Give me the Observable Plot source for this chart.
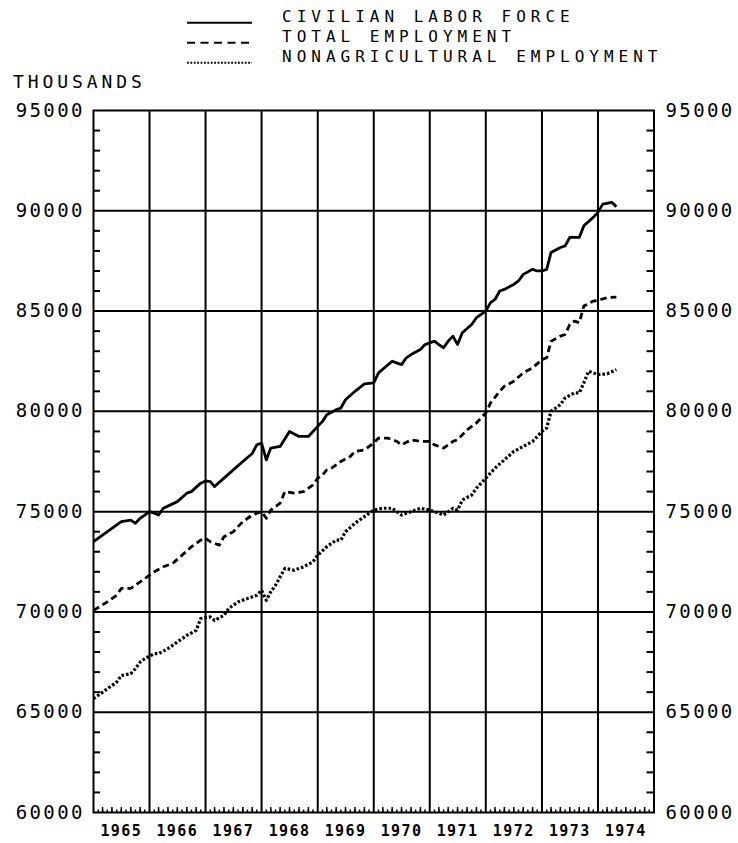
<!DOCTYPE html>
<html>
<head>
<meta charset="utf-8">
<script src="https://cdn.jsdelivr.net/npm/d3@7"></script>
<script src="https://cdn.jsdelivr.net/npm/@observablehq/plot@0.6"></script>
<style>
  body { margin: 0; background: #fff; }
  #wrap { width: 738px; height: 843px; position: relative; overflow: hidden; background: #fff; }
  #legend { display: block; }
  #chart svg { display: block; }
</style>
</head>
<body>
<div id="wrap">
  <svg id="legend" width="738" height="96"></svg>
  <div id="chart"></div>
</div>
<script>
// ---------------- DATA (thousands) ----------------
const seriesNames = ["CIVILIAN LABOR FORCE", "TOTAL EMPLOYMENT", "NONAGRICULTURAL EMPLOYMENT"];
const unitLabel = "THOUSANDS";
const yearLabels = ["1965", "1966", "1967", "1968", "1969", "1970", "1971", "1972", "1973", "1974"];
const yTickValues = [60000, 65000, 70000, 75000, 80000, 85000, 90000, 95000];

const laborForce = [
  ["1965-01",73500],["1965-03",73830],["1965-05",74170],["1965-07",74500],["1965-09",74580],["1965-10",74420],
  ["1965-11",74670],["1965-12",74830],["1966-01",75000],["1966-02",74920],["1966-03",74830],["1966-04",75170],
  ["1966-07",75500],["1966-09",75920],["1966-10",76000],["1966-12",76420],["1967-01",76530],["1967-02",76500],
  ["1967-03",76250],["1967-05",76670],["1967-07",77080],["1967-09",77500],["1967-11",77900],["1967-12",78330],
  ["1968-01",78420],["1968-02",77580],["1968-03",78170],["1968-05",78250],["1968-07",79000],["1968-09",78750],
  ["1968-11",78750],["1969-01",79250],["1969-02",79500],["1969-03",79830],["1969-05",80080],["1969-06",80170],
  ["1969-07",80580],["1969-09",81000],["1969-11",81370],["1970-01",81420],["1970-02",81920],["1970-05",82500],
  ["1970-07",82330],["1970-08",82670],["1970-09",82830],["1970-11",83080],["1970-12",83330],["1971-02",83500],
  ["1971-03",83330],["1971-04",83170],["1971-05",83500],["1971-06",83750],["1971-07",83330],["1971-08",83920],
  ["1971-10",84330],["1971-11",84670],["1972-01",85000],["1972-02",85420],["1972-03",85580],["1972-04",86000],
  ["1972-05",86080],["1972-07",86330],["1972-08",86500],["1972-09",86830],["1972-11",87080],["1972-12",87000],
  ["1973-01",87000],["1973-02",87080],["1973-03",87920],["1973-05",88170],["1973-06",88250],["1973-07",88670],
  ["1973-09",88670],["1973-10",89250],["1973-12",89670],["1974-01",89920],["1974-02",90330],["1974-04",90420],
  ["1974-05",90200]
];

const totalEmployment = [
  ["1965-01",70080],["1965-04",70500],["1965-06",70830],["1965-07",71170],["1965-09",71170],["1965-11",71500],
  ["1966-01",71830],["1966-02",72000],["1966-04",72250],["1966-06",72420],["1966-08",72830],["1966-10",73250],
  ["1966-12",73580],["1967-01",73670],["1967-02",73500],["1967-04",73330],["1967-05",73750],["1967-07",74000],
  ["1967-09",74500],["1967-11",74830],["1968-01",75000],["1968-02",74670],["1968-03",75080],["1968-05",75420],
  ["1968-06",76000],["1968-08",75920],["1968-10",76000],["1968-12",76330],["1969-01",76670],["1969-02",76830],
  ["1969-03",77080],["1969-04",77170],["1969-05",77330],["1969-06",77500],["1969-08",77750],["1969-09",78000],
  ["1969-11",78080],["1970-01",78420],["1970-02",78670],["1970-04",78670],["1970-06",78500],["1970-07",78330],
  ["1970-09",78580],["1970-11",78500],["1971-01",78500],["1971-02",78330],["1971-04",78170],["1971-06",78500],
  ["1971-07",78580],["1971-09",79080],["1971-11",79420],["1972-01",79920],["1972-02",80420],["1972-04",81000],
  ["1972-05",81250],["1972-07",81500],["1972-09",81920],["1972-11",82170],["1973-01",82580],["1973-02",82670],
  ["1973-03",83500],["1973-05",83750],["1973-06",83830],["1973-07",84330],["1973-08",84500],["1973-09",84420],
  ["1973-10",85250],["1973-12",85500],["1974-01",85530],["1974-03",85670],["1974-05",85700]
];

const nonagEmployment = [
  ["1965-01",65670],["1965-04",66170],["1965-06",66500],["1965-07",66830],["1965-09",66920],["1965-10",67170],
  ["1965-11",67500],["1965-12",67670],["1966-02",67920],["1966-03",67920],["1966-05",68170],["1966-07",68500],
  ["1966-09",68830],["1966-11",69080],["1966-12",69670],["1967-02",69750],["1967-03",69580],["1967-05",69830],
  ["1967-06",70170],["1967-08",70500],["1967-10",70670],["1967-12",70830],["1968-01",71080],["1968-02",70580],
  ["1968-03",71000],["1968-04",71330],["1968-05",71750],["1968-06",72170],["1968-08",72080],["1968-10",72250],
  ["1968-12",72500],["1969-01",72830],["1969-03",73250],["1969-05",73580],["1969-06",73580],["1969-07",74000],
  ["1969-09",74420],["1969-11",74750],["1970-01",75080],["1970-03",75170],["1970-05",75170],["1970-07",74830],
  ["1970-09",75000],["1970-11",75170],["1971-01",75080],["1971-02",75000],["1971-04",74830],["1971-06",75170],
  ["1971-07",75080],["1971-08",75580],["1971-10",75830],["1971-11",76170],["1972-01",76670],["1972-03",77170],
  ["1972-05",77580],["1972-07",78000],["1972-09",78250],["1972-11",78500],["1973-01",79000],["1973-02",79170],
  ["1973-03",80000],["1973-05",80330],["1973-06",80670],["1973-08",80920],["1973-09",80920],["1973-10",81420],
  ["1973-11",82000],["1973-12",81920],["1974-01",81830],["1974-03",81870],["1974-05",82080]
];

// ---------------- STYLES / LAYOUT ----------------
const seriesData = [laborForce, totalEmployment, nonagEmployment];
const dashes = [null, "6.5,4", "2.6,2"];
const widths = [2.8, 2.8, 3.2];
const FONT = "'DejaVu Sans Mono', monospace";

// Legend block (HTML-side SVG above the chart)
const leg = d3.select("#legend");
seriesNames.forEach((name, i) => {
  const base = 21.7 + i * 20;
  const ln = leg.append("line")
    .attr("x1", 187).attr("x2", 252)
    .attr("y1", base + 1).attr("y2", base + 1)
    .attr("stroke", "#000").attr("stroke-width", 2);
  if (i === 1) ln.attr("stroke-dasharray", "8,5.5");
  if (i === 2) ln.attr("stroke-dasharray", "1.8,1.6");
  leg.append("text")
    .attr("x", 282).attr("y", base)
    .attr("font-family", FONT).attr("font-size", 16)
    .attr("letter-spacing", "5px")
    .text(name);
});
leg.append("text")
  .attr("x", 13).attr("y", 88.3)
  .attr("font-family", FONT).attr("font-size", 18)
  .attr("letter-spacing", "3.9px")
  .text(unitLabel);

// ---------------- CHART ----------------
const parse = d3.utcParse("%Y-%m");
const rows = seriesData.map((arr, i) => arr.map(([d, v]) => ({date: parse(d), value: v, series: seriesNames[i]})));

const firstYear = +yearLabels[0], lastYear = +yearLabels[yearLabels.length - 1];
const xDomain = [new Date(Date.UTC(firstYear, 0, 1)), new Date(Date.UTC(lastYear + 1, 0, 1))];
const yearStarts = d3.utcYears(xDomain[0], xDomain[1]).slice(1);
const yearMids = yearLabels.map(y => new Date(Date.UTC(+y, 6, 1)));
const months = d3.utcMonths(xDomain[0], xDomain[1]).filter(d => d.getUTCMonth() !== 0);
const monthsLong = months.filter(d => d.getUTCMonth() % 2 === 0);
const yDomain = [yTickValues[0], yTickValues[yTickValues.length - 1]];
const yMinor = d3.range(yDomain[0] + 1000, yDomain[1], 1000).filter(v => v % 5000 !== 0);

const W = 738, H = 747, mL = 93, mR = 84.5, mT = 14, mB = 31;
const fw = W - mL - mR, fh = H - mT - mB;

const chart = Plot.plot({
  width: W, height: H,
  marginLeft: mL, marginRight: mR, marginTop: mT, marginBottom: mB,
  style: {fontFamily: FONT, background: "#fff", overflow: "visible", color: "#000"},
  x: {type: "utc", domain: xDomain},
  y: {domain: yDomain},
  marks: [
    Plot.ruleY(yTickValues.slice(1, -1), {stroke: "#000", strokeWidth: 2}),
    Plot.ruleX(yearStarts, {stroke: "#000", strokeWidth: 2}),
    Plot.tickY(yMinor, {y: d => d, insetRight: fw - 7, stroke: "#000", strokeWidth: 2}),
    Plot.tickY(yMinor, {y: d => d, insetLeft: fw - 7, stroke: "#000", strokeWidth: 2}),
    Plot.tickX(months, {x: d => d, insetTop: fh - 2.5, stroke: "#000", strokeWidth: 1.5}),
    Plot.tickX(monthsLong, {x: d => d, insetTop: fh - 5, stroke: "#000", strokeWidth: 1.5}),
    ...rows.map((r, i) => Plot.line(r, {
      x: "date", y: "value", stroke: "#000", strokeWidth: widths[i],
      strokeDasharray: dashes[i] ?? undefined, strokeLinecap: "butt", strokeLinejoin: "round"
    })),
    Plot.frame({stroke: "#000", strokeWidth: 2}),
    Plot.axisY(yTickValues, {anchor: "left", tickSize: 0, tickPadding: 8.6, tickFormat: d => String(d),
      fontSize: 19, label: null}),
    Plot.axisY(yTickValues, {anchor: "right", tickSize: 0, tickPadding: 11.5, tickFormat: d => String(d),
      fontSize: 19, label: null}),
    Plot.axisX(yearMids, {anchor: "bottom", tickSize: 0, tickPadding: 13, tickFormat: d3.utcFormat("%Y"),
      fontSize: 15, fontWeight: "bold", label: null})
  ]
});
document.getElementById("chart").appendChild(chart);

d3.select(chart).selectAll('g[aria-label="y-axis tick label"] text').attr("letter-spacing", "2.4px");
d3.select(chart).selectAll('g[aria-label="x-axis tick label"] text').attr("letter-spacing", "1.4px");
</script>
</body>
</html>
